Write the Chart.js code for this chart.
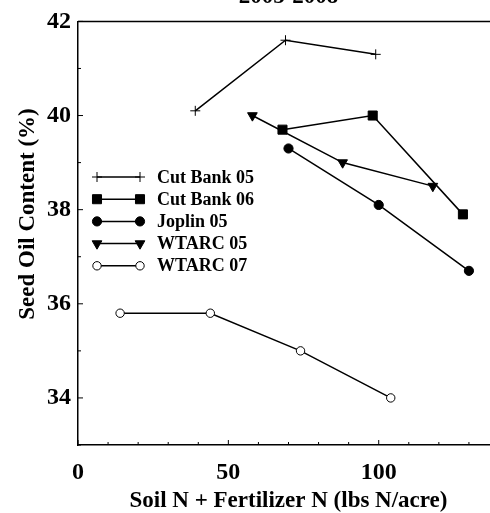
<!DOCTYPE html>
<html>
<head>
<meta charset="utf-8">
<script src="https://cdn.jsdelivr.net/npm/chart.js@4"></script>
<style>
  html, body { margin: 0; padding: 0; background: #fff; overflow: hidden; }
  #wrap { width: 512px; height: 513px; }
</style>
</head>
<body>
<div id="wrap"><canvas id="oilChart" width="512" height="513"></canvas></div>
<script>
// values
var seriesNames = ['Cut Bank 05', 'Cut Bank 06', 'Joplin 05', 'WTARC 05', 'WTARC 07'];
var cutBank05N = [39, 69, 99];
var cutBank05Oil = [40.1, 41.6, 41.3];
var cutBank06N = [68, 98, 128];
var cutBank06Oil = [39.7, 40.0, 37.9];
var joplin05N = [70, 100, 130];
var joplin05Oil = [39.3, 38.1, 36.7];
var wtarc05N = [58, 88, 118];
var wtarc05Oil = [40.0, 39.0, 38.5];
var wtarc07N = [14, 44, 74, 104];
var wtarc07Oil = [35.8, 35.8, 35.0, 34.0];
var xLabels = [0, 50, 100];
var yLabels = [34, 36, 38, 40, 42];

var serif = '"Liberation Serif", "Times New Roman", serif';

function pairs(xs, ys) {
    return xs.map(function (v, i) { return { x: v, y: ys[i] }; });
}

function series(name, xs, ys, style, radius, fill, rotation) {
    return {
        label: name,
        data: pairs(xs, ys),
        showLine: true,
        borderColor: '#000',
        borderWidth: 1.5,
        pointStyle: style,
        pointRadius: radius,
        pointHoverRadius: radius,
        pointRotation: rotation || 0,
        pointBackgroundColor: fill,
        pointBorderColor: '#000',
        pointBorderWidth: 1
    };
}

var datasets = [
    series(seriesNames[0], cutBank05N, cutBank05Oil, 'cross', 5, '#000'),
    series(seriesNames[1], cutBank06N, cutBank06Oil, 'rect', 6.4, '#000'),
    series(seriesNames[2], joplin05N, joplin05Oil, 'circle', 4.6, '#000'),
    series(seriesNames[3], wtarc05N, wtarc05Oil, 'triangle', 5.6, '#000', 180),
    series(seriesNames[4], wtarc07N, wtarc07Oil, 'circle', 4.2, '#fff')
];

// box top/right edge, inward ticks, legend with line samples, y title
var extras = {
    id: 'extras',
    afterDraw: function (chart) {
        var ctx = chart.ctx;
        var a = chart.chartArea;
        var xs = chart.scales.x;
        var ys = chart.scales.y;
        ctx.save();
        ctx.strokeStyle = '#000';
        ctx.lineWidth = 1.5;
        ctx.beginPath();
        ctx.moveTo(a.left, a.top);
        ctx.lineTo(a.right, a.top);
        ctx.lineTo(a.right, a.bottom);
        ctx.stroke();

        ctx.lineWidth = 1;
        ctx.beginPath();
        xs.ticks.forEach(function (t) {
            var px = xs.getPixelForValue(t.value);
            var len = xLabels.indexOf(t.value) >= 0 ? 5 : 3;
            ctx.moveTo(px, a.bottom);
            ctx.lineTo(px, a.bottom - len);
        });
        ys.ticks.forEach(function (t) {
            var py = ys.getPixelForValue(t.value);
            var len = yLabels.indexOf(t.value) >= 0 ? 5 : 3;
            ctx.moveTo(a.left, py);
            ctx.lineTo(a.left + len, py);
        });
        ctx.stroke();

        // legend
        var lx0 = 97, lx1 = 140, ly = 177, step = 22.2;
        ctx.font = 'bold 18px ' + serif;
        ctx.textBaseline = 'middle';
        ctx.textAlign = 'left';
        chart.data.datasets.forEach(function (ds, i) {
            var yy = ly + i * step;
            ctx.strokeStyle = '#000';
            ctx.lineWidth = 1.5;
            ctx.beginPath();
            ctx.moveTo(lx0, yy);
            ctx.lineTo(lx1, yy);
            ctx.stroke();
            [lx0, lx1].forEach(function (px) {
                ctx.fillStyle = ds.pointBackgroundColor;
                ctx.strokeStyle = '#000';
                ctx.lineWidth = 1;
                Chart.helpers.drawPoint(ctx, {
                    pointStyle: ds.pointStyle,
                    radius: ds.pointRadius,
                    rotation: ds.pointRotation,
                    borderWidth: 1
                }, px, yy);
            });
            ctx.fillStyle = '#000';
            ctx.fillText(ds.label, 157, yy + 1);
        });

        // y axis title
        ctx.translate(34, 214);
        ctx.rotate(-Math.PI / 2);
        ctx.textAlign = 'center';
        ctx.textBaseline = 'alphabetic';
        ctx.font = 'bold 23px ' + serif;
        ctx.fillStyle = '#000';
        ctx.fillText('Seed Oil Content (%)', 0, 0);
        ctx.restore();
    }
};

var ctx = document.getElementById('oilChart').getContext('2d');
var oilChart = new Chart(ctx, {
    type: 'scatter',
    data: { datasets: datasets },
    options: {
        responsive: false,
        animation: false,
        events: [],
        layout: { padding: { top: -16, right: 11, bottom: 0, left: 0 } },
        plugins: {
            legend: { display: false },
            tooltip: { enabled: false },
            title: {
                display: true,
                text: '2005-2008',
                fullSize: false,
                color: '#000',
                font: { family: serif, size: 23, weight: 'bold', lineHeight: 1 },
                padding: { top: 0, bottom: 13 }
            }
        },
        scales: {
            x: {
                type: 'linear',
                min: 0,
                max: 140,
                afterFit: function (s) { s.height = 68; },
                grid: { drawOnChartArea: false, drawTicks: false },
                border: { color: '#000', width: 1.5 },
                ticks: {
                    stepSize: 10,
                    autoSkip: false,
                    maxRotation: 0,
                    padding: 13,
                    color: '#000',
                    font: { family: serif, size: 24, weight: 'bold' },
                    callback: function (v) { return xLabels.indexOf(v) >= 0 ? String(v) : ''; }
                },
                title: {
                    display: true,
                    text: 'Soil N + Fertilizer N (lbs N/acre)',
                    color: '#000',
                    font: { family: serif, size: 23, weight: 'bold', lineHeight: 1 },
                    padding: { top: 0, bottom: 0 }
                }
            },
            y: {
                type: 'linear',
                min: 33,
                max: 42,
                afterFit: function (s) { s.width = 78; },
                grid: { drawOnChartArea: false, drawTicks: false },
                border: { color: '#000', width: 1.5 },
                ticks: {
                    stepSize: 1,
                    autoSkip: false,
                    padding: 7,
                    color: '#000',
                    font: { family: serif, size: 24, weight: 'bold' },
                    callback: function (v) { return yLabels.indexOf(v) >= 0 ? String(v) : ''; }
                }
            }
        }
    },
    plugins: [extras]
});
</script>
</body>
</html>
